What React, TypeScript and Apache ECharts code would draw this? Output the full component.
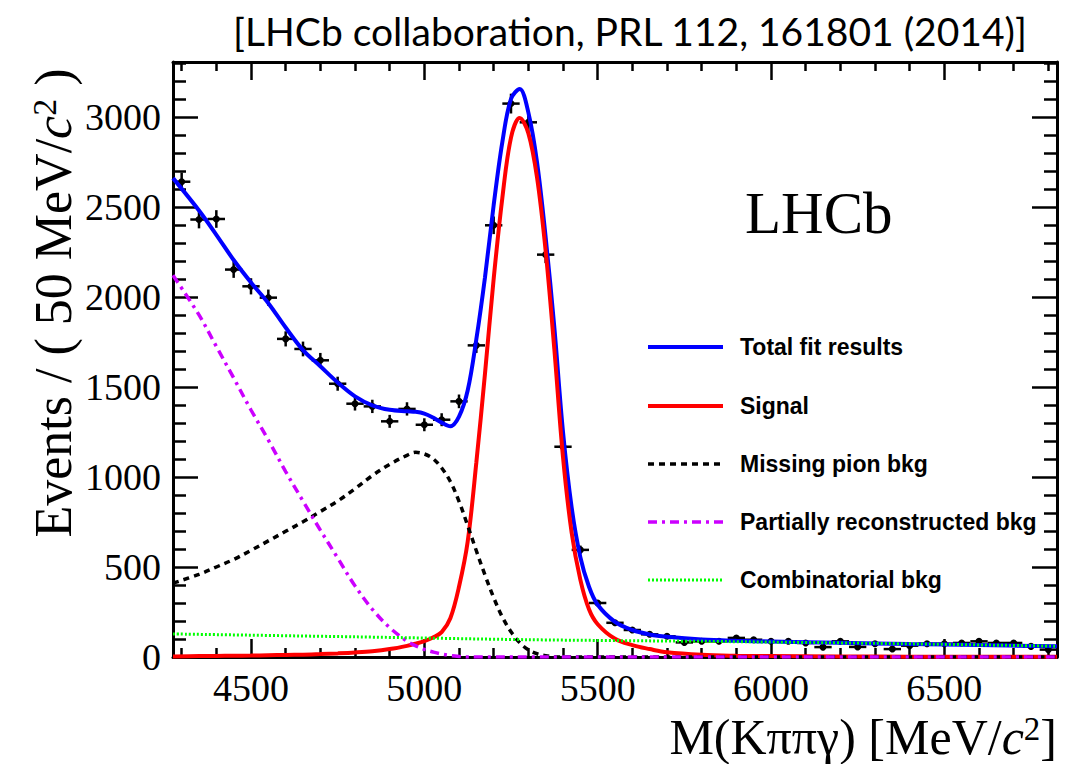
import React, { useEffect, useRef } from "react";
import * as echarts from "echarts";

// ---------- axis ranges & ticks ----------
const X_MIN = 4275;
const X_MAX = 6825;
const Y_MIN = 0;
const Y_MAX = 3305;
const xMajorTicks = [4500, 5000, 5500, 6000, 6500];
const xMinorTicks = [4300, 4400, 4600, 4700, 4800, 4900, 5100, 5200, 5300, 5400, 5600, 5700, 5800, 5900, 6100, 6200, 6300, 6400, 6600, 6700, 6800];
const yMajorTicks = [0, 500, 1000, 1500, 2000, 2500, 3000];
const yMinorTicks = [100, 200, 300, 400, 600, 700, 800, 900, 1100, 1200, 1300, 1400, 1600, 1700, 1800, 1900, 2100, 2200, 2300, 2400, 2600, 2700, 2800, 2900, 3100, 3200, 3300];

// ---------- data points (50 MeV bins) ----------
const binCenters = [4300, 4350, 4400, 4450, 4500, 4550, 4600, 4650, 4700, 4750, 4800, 4850, 4900, 4950, 5000, 5050, 5100, 5150, 5200, 5250, 5300, 5350, 5400, 5450, 5500, 5550, 5600, 5650, 5700, 5750, 5800, 5850, 5900, 5950, 6000, 6050, 6100, 6150, 6200, 6250, 6300, 6350, 6400, 6450, 6500, 6550, 6600, 6650, 6700, 6750, 6800];
const events = [2640, 2430, 2433, 2152, 2059, 1996, 1767, 1711, 1648, 1518, 1407, 1392, 1309, 1378, 1290, 1318, 1420, 1731, 2398, 3074, 2970, 2235, 1168, 595, 300, 190, 150, 126, 115, 81, 87, 87, 106, 96, 87, 87, 78, 55, 87, 56, 74, 44, 63, 74, 74, 78, 87, 78, 78, 59, 41];
const eventErrors = [51, 49, 49, 46, 45, 45, 42, 41, 41, 39, 38, 37, 36, 37, 36, 36, 38, 42, 49, 55, 54, 47, 34, 24, 17, 14, 12, 11, 11, 9, 9, 9, 10, 10, 9, 9, 9, 7, 9, 7, 9, 7, 8, 9, 9, 9, 9, 9, 9, 8, 6];
const BIN_HALF_WIDTH = 25;

// ---------- fit curves ----------
const curveMass = [4275, 4350, 4400, 4450, 4500, 4550, 4600, 4650, 4700, 4750, 4800, 4850, 4900, 4950, 4975, 5000, 5025, 5050, 5075, 5100, 5125, 5150, 5175, 5200, 5225, 5250, 5275, 5300, 5325, 5350, 5375, 5400, 5425, 5450, 5475, 5500, 5550, 5600, 5650, 5700, 5800, 5900, 6000, 6200, 6400, 6600, 6825];
const totalFit = [2660, 2480, 2345, 2205, 2080, 1965, 1830, 1705, 1615, 1525, 1448, 1398, 1373, 1365, 1362, 1352, 1330, 1302, 1282, 1335, 1480, 1765, 2110, 2510, 2860, 3100, 3155, 3025, 2750, 2330, 1830, 1250, 830, 555, 390, 290, 195, 150, 125, 112, 97, 90, 86, 79, 72, 66, 60];
const signal = [3, 5, 6, 7, 8, 10, 11, 13, 16, 20, 25, 32, 44, 62, 74, 88, 108, 138, 215, 390, 640, 1080, 1575, 2100, 2550, 2885, 2994, 2910, 2665, 2255, 1710, 1110, 690, 430, 265, 182, 101, 66, 44, 26, 12, 7, 5, 3, 2, 1, 1];
const missingPion = [410, 459, 500, 542, 592, 645, 698, 751, 808, 866, 935, 1008, 1070, 1120, 1137, 1128, 1102, 1050, 975, 865, 730, 590, 455, 330, 222, 140, 80, 40, 18, 7, 2, 0, 0, 0, 0, 0, 0, 0, 0, 0, 0, 0, 0, 0, 0, 0, 0];
const partialReco = [2120, 1900, 1725, 1550, 1372, 1205, 1030, 866, 705, 550, 395, 265, 163, 88, 62, 42, 28, 16, 8, 3, 0, 0, 0, 0, 0, 0, 0, 0, 0, 0, 0, 0, 0, 0, 0, 0, 0, 0, 0, 0, 0, 0, 0, 0, 0, 0, 0];
const combMass = [4275, 4800, 5300, 5800, 6300, 6825];
const combinatorial = [128, 112, 96, 87, 76, 60];

const legendNames = ["Total fit results", "Signal", "Missing pion bkg", "Partially reconstructed bkg", "Combinatorial bkg"];

const SERIF = "'Liberation Serif', 'Times New Roman', serif";
const SANS = "'Liberation Sans', Arial, sans-serif";

const colors = ["#0000ff", "#ff0000", "#000000", "#cc00ff", "#00ff00"];
const widths = [4, 4, 3.5, 3.5, 3];
const dashes: any[] = ["solid", "solid", [6, 5], [9, 5, 3, 5], [2, 2]];

function App() {
  const ref = useRef<HTMLDivElement>(null);

  useEffect(() => {
    if (!ref.current) return;
    const chart = echarts.init(ref.current, null, { renderer: "svg" });

    const GRID = { left: 173, right: 16, top: 62, bottom: 107 };
    const tickStyle = { color: "#000", width: 2.5 };
    const frame = { show: true, onZero: false, lineStyle: { color: "#000", width: 3 } };
    const noLine = { show: false, onZero: false };

    const xAxis = (gridIndex: number, position: string, ticks: number[], len: number, labels: boolean) => ({
      type: "value",
      gridIndex,
      position,
      min: X_MIN,
      max: X_MAX,
      axisLine: gridIndex === 0 ? frame : noLine,
      axisTick: { show: true, inside: true, length: len, customValues: ticks, lineStyle: tickStyle },
      axisLabel: labels
        ? { show: true, customValues: xMajorTicks, formatter: (v: number) => String(v), fontFamily: SERIF, fontSize: 38, color: "#000", margin: 12 }
        : { show: false },
      splitLine: { show: false },
    });
    const yAxis = (gridIndex: number, position: string, ticks: number[], len: number, labels: boolean) => ({
      type: "value",
      gridIndex,
      position,
      min: Y_MIN,
      max: Y_MAX,
      axisLine: gridIndex === 0 ? frame : noLine,
      axisTick: { show: true, inside: true, length: len, customValues: ticks, lineStyle: tickStyle },
      axisLabel: labels
        ? { show: true, customValues: yMajorTicks, formatter: (v: number) => String(v), fontFamily: SERIF, fontSize: 38, color: "#000", margin: 12 }
        : { show: false },
      splitLine: { show: false },
    });

    const curves = [totalFit, signal, missingPion, partialReco];
    const lineSeries: any[] = curves.map((vals, k) => ({
      type: "line",
      name: legendNames[k],
      xAxisIndex: 0,
      yAxisIndex: 0,
      data: curveMass.map((m, i) => [m, vals[i]]),
      symbol: "none",
      showSymbol: false,
      smooth: 0.35,
      lineStyle: { color: colors[k], width: widths[k], type: dashes[k] },
      z: 3 + k,
      silent: true,
    }));
    lineSeries.push({
      type: "line",
      name: legendNames[4],
      xAxisIndex: 0,
      yAxisIndex: 0,
      data: combMass.map((m, i) => [m, combinatorial[i]]),
      symbol: "none",
      showSymbol: false,
      smooth: 0.3,
      lineStyle: { color: colors[4], width: widths[4], type: dashes[4] },
      z: 7,
      silent: true,
    });

    const dataSeries = {
      type: "custom",
      name: "Data",
      xAxisIndex: 0,
      yAxisIndex: 0,
      z: 2,
      data: binCenters.map((m, i) => [m, events[i], eventErrors[i]]),
      encode: { x: 0, y: 1 },
      renderItem: (_params: any, api: any) => {
        const m = api.value(0);
        const v = api.value(1);
        const e = api.value(2);
        const p = api.coord([m, v]);
        const l = api.coord([m - BIN_HALF_WIDTH, v]);
        const r = api.coord([m + BIN_HALF_WIDTH, v]);
        const lo = api.coord([m, v - e]);
        const hi = api.coord([m, v + e]);
        const st = { stroke: "#000", lineWidth: 2.5 };
        return {
          type: "group",
          children: [
            { type: "line", shape: { x1: l[0], y1: p[1], x2: r[0], y2: p[1] }, style: st },
            { type: "line", shape: { x1: p[0], y1: hi[1], x2: p[0], y2: lo[1] }, style: st },
            { type: "circle", shape: { cx: p[0], cy: p[1], r: 3.5 }, style: { fill: "#000" } },
          ],
        };
      },
    };

    const legendY = [347, 406, 464, 522, 580];
    const legendGraphics: any[] = [];
    legendNames.forEach((name, k) => {
      legendGraphics.push({
        type: "line",
        shape: { x1: 648, y1: legendY[k], x2: 723, y2: legendY[k] },
        style: { stroke: colors[k], lineWidth: widths[k], lineDash: Array.isArray(dashes[k]) ? dashes[k] : null },
        z: 20,
      });
      legendGraphics.push({
        type: "text",
        x: 740,
        y: legendY[k],
        style: { text: name, fontFamily: SANS, fontWeight: "bold", fontSize: 23, fill: "#000", align: "left", verticalAlign: "middle" },
        z: 20,
      });
    });

    chart.setOption({
      animation: false,
      backgroundColor: "#ffffff",
      grid: [
        { ...GRID, containLabel: false },
        { ...GRID, containLabel: false },
      ],
      xAxis: [
        xAxis(0, "bottom", xMajorTicks, 18, true),
        xAxis(0, "top", xMajorTicks, 18, false),
        xAxis(1, "bottom", xMinorTicks, 9, false),
        xAxis(1, "top", xMinorTicks, 9, false),
      ],
      yAxis: [
        yAxis(0, "left", yMajorTicks, 25, true),
        yAxis(0, "right", yMajorTicks, 25, false),
        yAxis(1, "left", yMinorTicks, 13, false),
        yAxis(1, "right", yMinorTicks, 13, false),
      ],
      series: [dataSeries, ...lineSeries],
      graphic: [
        {
          type: "text",
          x: 630,
          y: 31,
          style: { text: "[LHCb collaboration, PRL 112, 161801 (2014)]", fontFamily: "Lato, 'Open Sans', sans-serif", fontSize: 39, fill: "#000", align: "center", verticalAlign: "middle" },
        },
        {
          type: "text",
          x: 745,
          y: 213,
          style: { text: "LHCb", fontFamily: SERIF, fontSize: 59, fill: "#000", align: "left", verticalAlign: "middle" },
          z: 20,
        },
        {
          type: "text",
          x: 53,
          y: 303,
          rotation: Math.PI / 2,
          style: {
            text: "Events / ( 50 MeV/{i|c}{s|2} )",
            fontFamily: SERIF,
            fontSize: 52,
            fill: "#000",
            align: "center",
            verticalAlign: "middle",
            rich: {
              i: { fontFamily: SERIF, fontSize: 52, fontStyle: "italic", fill: "#000" },
              s: { fontFamily: SERIF, fontSize: 34, fill: "#000", verticalAlign: "top" },
            },
          },
        },
        {
          type: "text",
          x: 1057,
          y: 737,
          style: {
            text: "M(K\u03c0\u03c0\u03b3) [MeV/{i|c}{s|2}]",
            fontFamily: SERIF,
            fontSize: 50,
            fill: "#000",
            align: "right",
            verticalAlign: "middle",
            rich: {
              i: { fontFamily: SERIF, fontSize: 50, fontStyle: "italic", fill: "#000" },
              s: { fontFamily: SERIF, fontSize: 33, fill: "#000", verticalAlign: "top" },
            },
          },
        },
        ...legendGraphics,
      ],
    });

    return () => chart.dispose();
  }, []);

  return <div ref={ref} style={{ position: "absolute", left: 0, top: 0, width: 1073, height: 764 }} />;
}

export default App;
